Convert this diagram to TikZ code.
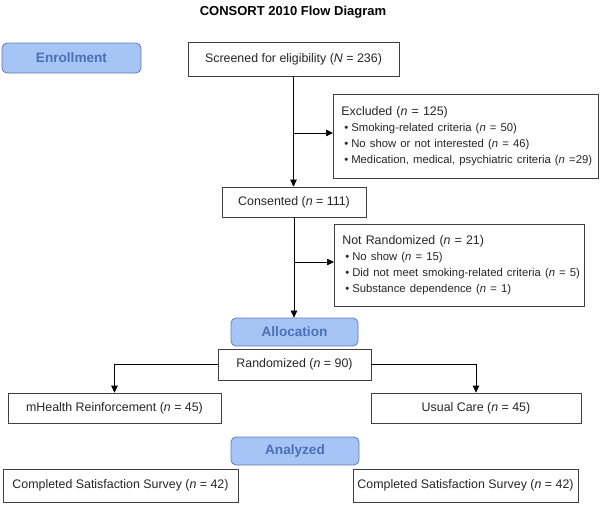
\documentclass[tikz,border=0pt]{standalone}
\usepackage{fontspec}
\setmainfont{Liberation Sans}
\usepackage{tikz}
\usepackage{xcolor}
\usetikzlibrary{arrows.meta}

\definecolor{headfill}{RGB}{166,196,245}
\definecolor{headdraw}{RGB}{98,124,176}
\definecolor{headtext}{RGB}{74,112,182}
\newcommand{\bitem}[1]{\\\hspace*{3pt}\mbox{\textbullet\hspace{3pt}#1}}

\begin{document}
\begin{tikzpicture}[x=1pt,y=-1pt,
  box/.style={draw=black!75,line width=0.7pt,fill=white,text=black!85,inner sep=0pt,
    font=\fontsize{12.4}{16}\selectfont},
  listbox/.style={box,align=left,inner xsep=8pt,anchor=north west},
  head/.style={draw=headdraw,fill=headfill,rounded corners=5pt,line width=0.8pt,
    text=headtext,font=\fontsize{13.6}{16}\selectfont\bfseries},
  flow/.style={-{Triangle[length=7pt,width=6.5pt]},line width=0.7pt}]
  \useasboundingbox (0,0) rectangle (600,507);

  % Title
  \node[font=\fontsize{13}{15}\selectfont\bfseries] (title) at (293,12) {CONSORT 2010 Flow Diagram};

  % Stage headings
  \node[head,minimum width=139,minimum height=30] (enrol) at (71.5,58) {Enrollment};
  \node[head,minimum width=127,minimum height=28] (alloc) at (294.5,332) {Allocation};
  \node[head,minimum width=128,minimum height=28] (anal) at (295,451) {Analyzed};

  % Enrollment
  \node[box,minimum width=211,minimum height=34] (screen) at (293.5,59) {Screened for eligibility (\textit{N} = 236)};
  \node[listbox,text width=249,minimum height=84] (excl) at (333,94) {Excluded (\textit{n} = 125)\fontsize{11.3}{16}\selectfont
    \bitem{Smoking-related criteria (\textit{n} = 50)}
    \bitem{No show or not interested (\textit{n} = 46)}
    \bitem{Medication, medical, psychiatric criteria (\textit{n} =29)}};
  \node[box,minimum width=144,minimum height=30] (consent) at (294,202) {Consented (\textit{n} = 111)};
  \node[listbox,text width=234,minimum height=82] (notr) at (334,224) {Not Randomized (\textit{n} = 21)\vphantom{Ag}\rule[-6pt]{0pt}{1pt}\fontsize{11.3}{16}\selectfont
    \bitem{No show (\textit{n} = 15)}
    \bitem{Did not meet smoking-related criteria (\textit{n} = 5)}
    \bitem{Substance dependence (\textit{n} = 1)}};

  % Allocation
  \node[box,minimum width=153,minimum height=31] (rand) at (294.5,364.5) {Randomized (\textit{n} = 90)};
  \node[box,minimum width=213,minimum height=30] (mh) at (114.5,408) {mHealth Reinforcement (\textit{n} = 45)};
  \node[box,minimum width=210,minimum height=30] (uc) at (476,408) {Usual Care (\textit{n} = 45)};

  % Analysis
  \node[box,minimum width=235,minimum height=33] (cs1) at (120.5,485.5) {Completed Satisfaction Survey (\textit{n} = 42)};
  \node[box,minimum width=225,minimum height=33] (cs2) at (465.5,485.5) {Completed Satisfaction Survey (\textit{n} = 42)};

  % Arrows
  \coordinate (b1) at (294,133);
  \coordinate (b2) at (294,262);
  \draw[flow] (screen.south) -- (screen.south |- consent.north);
  \draw[flow] (b1) -- (b1 -| excl.west);
  \draw[flow] (consent.south) -- (consent.south |- alloc.north);
  \draw[flow] (b2) -- (b2 -| notr.west);
  \draw[flow] (rand.west) -| (mh.north);
  \draw[flow] (rand.east) -| (uc.north);
\end{tikzpicture}
\end{document}
